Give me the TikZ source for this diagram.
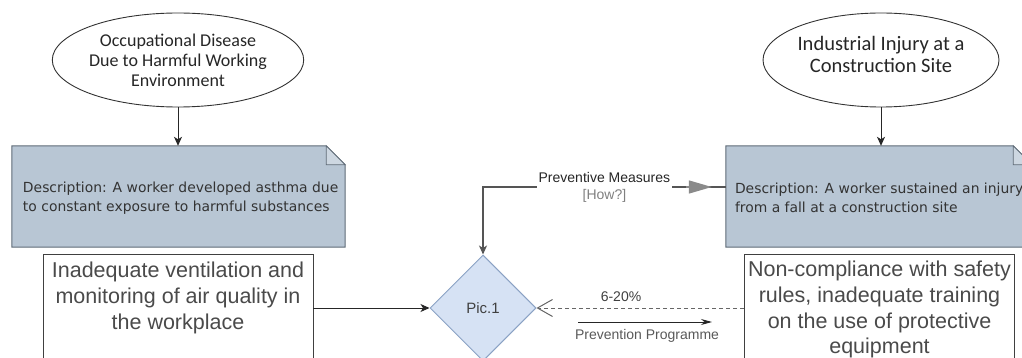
\documentclass[tikz,border=0pt]{standalone}
\usepackage{fontspec}
\setmainfont{Liberation Sans}
\newfontfamily\calib{Carlito}
\newfontfamily\dejav{DejaVu Sans}
\usetikzlibrary{shapes.geometric,arrows.meta,calc}

\definecolor{notefill}{HTML}{B8C6D4}
\definecolor{noteedge}{HTML}{5F6B77}
\definecolor{diafill}{HTML}{D6E2F4}
\definecolor{diaedge}{HTML}{8BA2C4}
\definecolor{txtgray}{HTML}{4A4A4A}
\definecolor{lnkgray}{HTML}{555555}
\definecolor{tipgray}{HTML}{8A8A8A}

\begin{document}
\begin{tikzpicture}[x=1pt,y=-1pt,
 ell/.style={ellipse,draw=black!80,line width=0.9pt,inner sep=0pt,align=center,text=black!85},
 noteshape/.style={rectangle,minimum width=333pt,minimum height=101pt,inner sep=0pt},
 notetext/.style={anchor=west,align=left,inner sep=0pt,font=\dejav\fontsize{13.9}{19.5}\selectfont,text=black!80},
 causebox/.style={rectangle,draw=black!75,line width=0.9pt,minimum width=270pt,minimum height=130pt,anchor=north,inner sep=0pt},
 causetext/.style={anchor=north,align=center,inner sep=0pt,font=\fontsize{21.5}{25.7}\selectfont,text=txtgray},
 decision/.style={diamond,aspect=1,draw=diaedge,fill=diafill,line width=1pt,minimum width=106pt,minimum height=106pt,inner sep=0pt,font=\fontsize{15}{18}\selectfont,text=black!75},
 conn/.style={draw=black!85,line width=1pt,-{Stealth[length=9pt,width=8pt,inset=2.5pt]}},
 dconn/.style={draw=black!60,line width=1pt,dash pattern=on 4pt off 3pt,-{Straight Barb[length=15pt,width=17pt]}},
 lbl/.style={font=\fontsize{14}{17}\selectfont,text=black!75,inner sep=1pt}
]
\useasboundingbox (0,0) rectangle (1022,358);
\clip (0,0) rectangle (1022,358);

% ellipses
\node[ell,minimum width=186pt,minimum height=94pt,font=\calib\fontsize{18}{20}\selectfont] (lell) at (178,60) {Occupational Disease\\Due to Harmful Working\\Environment};
\node[ell,minimum width=188pt,minimum height=94pt,font=\calib\fontsize{20.5}{22}\selectfont] (rell) at (881,60) {Industrial Injury at a\\Construction Site\\[-10pt]};

% notes
\node[noteshape] (lnote) at (178.5,196.5) {};
\node[noteshape,minimum width=306pt] (rnote) at (879,196.5) {};
\foreach \n in {lnote,rnote} {
  \filldraw[fill=notefill,draw=noteedge,line width=1pt] (\n.north west) -- ([xshift=-19pt]\n.north east) -- ([yshift=-19pt]\n.north east) -- (\n.south east) -- (\n.south west) -- cycle;
  \filldraw[fill=notefill!70!white,draw=noteedge,line width=0.8pt] ([xshift=-19pt]\n.north east) -- ([xshift=-19pt,yshift=-19pt]\n.north east) -- ([yshift=-19pt]\n.north east) -- cycle;
}
\node[notetext] (lnotetxt) at ([xshift=11pt,yshift=-1.5pt]lnote.west) {Description: A worker developed asthma due\\to constant exposure to harmful substances};
\node[notetext] (rnotetxt) at ([xshift=9pt,yshift=-1.5pt]rnote.west) {Description: A worker sustained an injury\\from a fall at a construction site};

% cause boxes
\node[causebox] (lbox) at (178,254) {};
\node[causebox] (rbox) at (879.5,254) {};
\node[causetext] (lboxtxt) at ([yshift=-8pt]lbox.north) {Inadequate ventilation and\\monitoring of air quality in\\the workplace};
\node[causetext] (rboxtxt) at ([yshift=-7pt]rbox.north) {Non-compliance with safety\\rules, inadequate training\\on the use of protective\\equipment};

% decision
\node[decision] (dia) at (483,308) {Pic.1};

% connectors
\draw[conn] (lell.south) -- (lell.south |- lnote.north);
\draw[conn] (rell.south) -- (rell.south |- rnote.north);
\draw[conn] (lbox.east |- dia.west) -- (dia.west);
\draw[dconn] (rbox.west |- dia.east) -- (dia.east);

\coordinate (pm) at ([yshift=9.5pt]rnote.west);
\draw[conn,draw=lnkgray,line width=1.4pt] (pm) -| (dia.north)
  node[pos=0.25,fill=white,lbl,align=center,inner sep=2pt,text=black!85] (pmlbl) {Preventive Measures\\{\color{black!50}[How?]}};
\draw[draw=tipgray,line width=1.4pt,-{Triangle[length=23pt,width=13pt]}] ([xshift=-40pt]pm) -- ([xshift=-14pt]pm);

\node[lbl] (pct) at (621,297) {6-20\%};
\coordinate (pa1) at (578,322);
\coordinate (pa2) at (712,322);
\draw[draw=black!85,line width=1pt,-{Stealth[length=11pt,width=6pt]}] (pa1) -- (pa2);
\node[lbl,text=black!65] (pp) at (647,336) {Prevention Programme};
\end{tikzpicture}
\end{document}
